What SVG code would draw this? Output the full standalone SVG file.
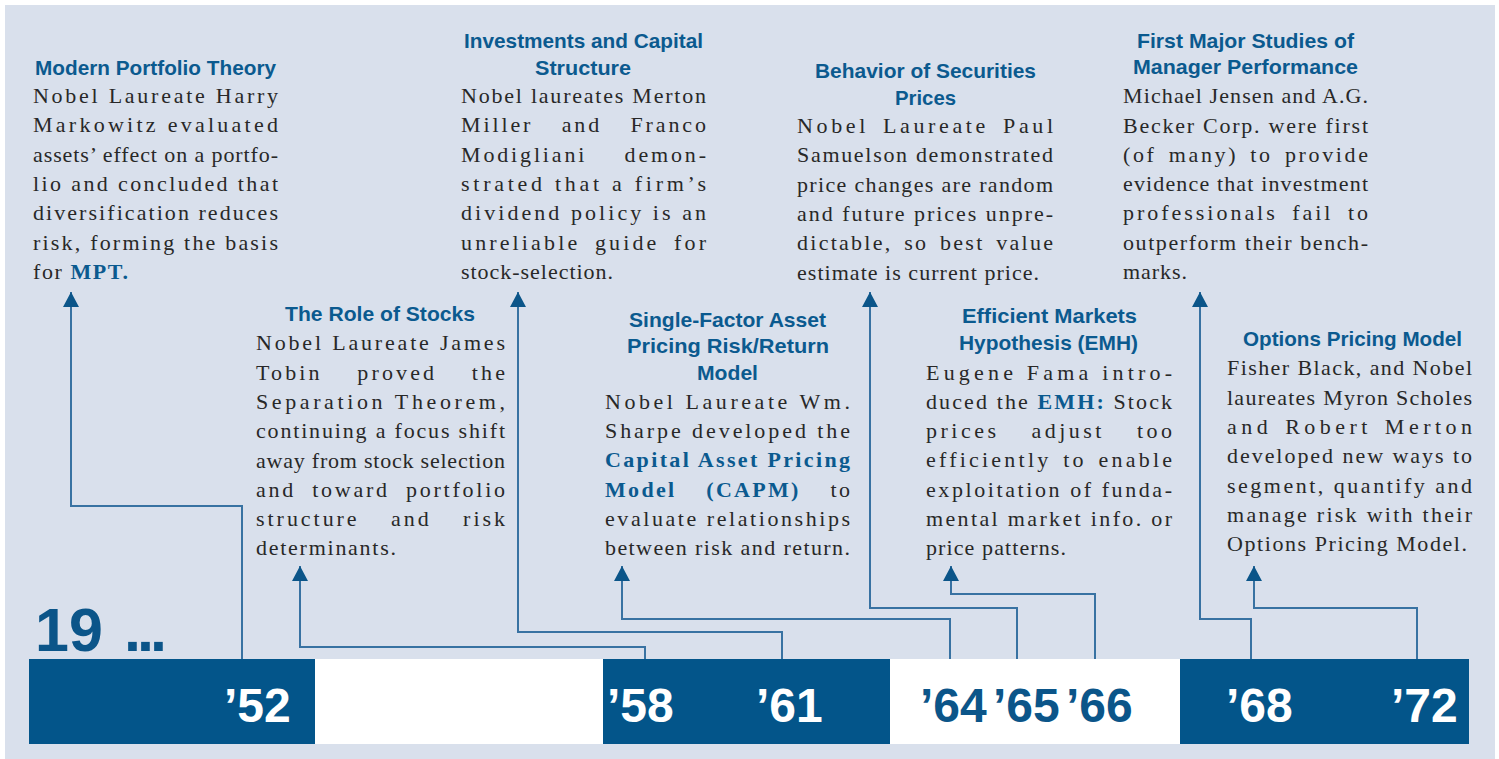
<svg xmlns="http://www.w3.org/2000/svg" width="1499" height="759" viewBox="0 0 1499 759">
<style>
.t{font-family:"Liberation Sans",Arial,sans-serif;font-weight:bold;font-size:21px;fill:#0b5a8f}
.b{font-family:"Liberation Serif","Times New Roman",serif;font-size:22px;fill:#282828}
.h{font-weight:bold;fill:#0b5a8f}
.yr{font-family:"Liberation Sans",Arial,sans-serif;font-weight:bold;font-size:48px}
.w{fill:#ffffff}
.d{fill:#0b5589}
.bar{fill:#03558a}
.c{fill:none;stroke:#3872a2;stroke-width:2;marker-end:url(#ah)}
</style>
<defs>
<marker id="ah" viewBox="0 0 15 16" refX="15" refY="8" markerWidth="15" markerHeight="16" markerUnits="userSpaceOnUse" orient="auto">
<path d="M0,0 L15,8 L0,16 z" fill="#0b5589"/>
</marker>
</defs>
<rect x="5" y="5" width="1490" height="754" fill="#d9e0ec"/>

<g id="timeline">
<rect class="bar" x="29" y="659" width="286" height="85"/>
<rect x="315" y="659" width="288" height="85" fill="#ffffff"/>
<rect class="bar" x="603" y="659" width="287" height="85"/>
<rect x="890" y="659" width="290" height="85" fill="#ffffff"/>
<rect class="bar" x="1180" y="659" width="289" height="85"/>
<text class="yr d" x="35" y="651" style="font-size:61px">19</text>
<text class="yr d" x="124" y="651" style="font-size:61px" letter-spacing="-4">...</text>
<text class="yr w" x="224" y="722">’52</text>
<text class="yr w" x="607" y="722">’58</text>
<text class="yr w" x="756" y="722">’61</text>
<text class="yr d" x="920" y="722">’64</text>
<text class="yr d" x="993" y="722">’65</text>
<text class="yr d" x="1066" y="722">’66</text>
<text class="yr w" x="1226" y="722">’68</text>
<text class="yr w" x="1391" y="722">’72</text>
</g>

<g id="connectors">
<path class="c" d="M242,659 V506 H71 V292"/>
<path class="c" d="M645,659 V647 H300 V566"/>
<path class="c" d="M782,659 V632 H518 V292"/>
<path class="c" d="M950,659 V619 H622 V566"/>
<path class="c" d="M1017,659 V608 H870 V292"/>
<path class="c" d="M1095,659 V594 H951 V566"/>
<path class="c" d="M1251,659 V619 H1200 V292"/>
<path class="c" d="M1417,659 V608 H1254 V566"/>
</g>

<g id="n1952">
<text class="t" x="35" y="75" textLength="241" lengthAdjust="spacingAndGlyphs">Modern Portfolio Theory</text>
<text class="b" x="33" y="103" textLength="245" lengthAdjust="spacing">Nobel Laureate Harry</text>
<text class="b" x="33" y="132" textLength="245" lengthAdjust="spacing">Markowitz evaluated</text>
<text class="b" x="33" y="162" textLength="245" lengthAdjust="spacing">assets’ effect on a portfo-</text>
<text class="b" x="33" y="191" textLength="245" lengthAdjust="spacing">lio and concluded that</text>
<text class="b" x="33" y="220" textLength="245" lengthAdjust="spacing">diversification reduces</text>
<text class="b" x="33" y="250" textLength="245" lengthAdjust="spacing">risk, forming the basis</text>
<text class="b" x="33" y="279" textLength="95" lengthAdjust="spacing">for <tspan class="h">MPT.</tspan></text>
</g>

<g id="n1958">
<text class="t" x="285" y="321" textLength="190" lengthAdjust="spacingAndGlyphs">The Role of Stocks</text>
<text class="b" x="256" y="350" textLength="249" lengthAdjust="spacing">Nobel Laureate James</text>
<text class="b" x="256" y="380" textLength="249" lengthAdjust="spacing" word-spacing="26">Tobin proved the</text>
<text class="b" x="256" y="409" textLength="249" lengthAdjust="spacing">Separation Theorem,</text>
<text class="b" x="256" y="438" textLength="249" lengthAdjust="spacing">continuing a focus shift</text>
<text class="b" x="256" y="468" textLength="249" lengthAdjust="spacing">away from stock selection</text>
<text class="b" x="256" y="497" textLength="249" lengthAdjust="spacing" word-spacing="8">and toward portfolio</text>
<text class="b" x="256" y="526" textLength="249" lengthAdjust="spacing" word-spacing="23">structure and risk</text>
<text class="b" x="256" y="555" textLength="140" lengthAdjust="spacing">determinants.</text>
</g>

<g id="n1961">
<text class="t" x="464" y="48" textLength="239" lengthAdjust="spacingAndGlyphs">Investments and Capital</text>
<text class="t" x="535" y="75" textLength="96" lengthAdjust="spacingAndGlyphs">Structure</text>
<text class="b" x="461" y="103" textLength="245" lengthAdjust="spacing">Nobel laureates Merton</text>
<text class="b" x="461" y="132" textLength="245" lengthAdjust="spacing" word-spacing="20">Miller and Franco</text>
<text class="b" x="461" y="162" textLength="245" lengthAdjust="spacing" word-spacing="29">Modigliani demon-</text>
<text class="b" x="461" y="191" textLength="245" lengthAdjust="spacing">strated that a firm’s</text>
<text class="b" x="461" y="220" textLength="245" lengthAdjust="spacing">dividend policy is an</text>
<text class="b" x="461" y="250" textLength="245" lengthAdjust="spacing" word-spacing="6">unreliable guide for</text>
<text class="b" x="461" y="279" textLength="152" lengthAdjust="spacing">stock-selection.</text>
</g>

<g id="n1964">
<text class="t" x="629" y="327" textLength="197" lengthAdjust="spacingAndGlyphs">Single-Factor Asset</text>
<text class="t" x="627" y="353" textLength="202" lengthAdjust="spacingAndGlyphs">Pricing Risk/Return</text>
<text class="t" x="697" y="380" textLength="61" lengthAdjust="spacingAndGlyphs">Model</text>
<text class="b" x="605" y="409" textLength="245" lengthAdjust="spacing">Nobel Laureate Wm.</text>
<text class="b" x="605" y="438" textLength="245" lengthAdjust="spacing">Sharpe developed the</text>
<text class="b h" x="605" y="467" textLength="245" lengthAdjust="spacing">Capital Asset Pricing</text>
<text class="b" x="605" y="497" textLength="245" lengthAdjust="spacing" word-spacing="22"><tspan class="h">Model (CAPM)</tspan> to</text>
<text class="b" x="605" y="526" textLength="245" lengthAdjust="spacing">evaluate relationships</text>
<text class="b" x="605" y="555" textLength="245" lengthAdjust="spacing">between risk and return.</text>
</g>

<g id="n1965">
<text class="t" x="815" y="78" textLength="221" lengthAdjust="spacingAndGlyphs">Behavior of Securities</text>
<text class="t" x="895" y="105" textLength="61" lengthAdjust="spacingAndGlyphs">Prices</text>
<text class="b" x="797" y="133" textLength="256" lengthAdjust="spacing" word-spacing="5">Nobel Laureate Paul</text>
<text class="b" x="797" y="162" textLength="256" lengthAdjust="spacing">Samuelson demonstrated</text>
<text class="b" x="797" y="192" textLength="256" lengthAdjust="spacing">price changes are random</text>
<text class="b" x="797" y="221" textLength="256" lengthAdjust="spacing">and future prices unpre-</text>
<text class="b" x="797" y="250" textLength="256" lengthAdjust="spacing" word-spacing="4">dictable, so best value</text>
<text class="b" x="797" y="280" textLength="242" lengthAdjust="spacing">estimate is current price.</text>
</g>

<g id="n1966">
<text class="t" x="962" y="323" textLength="175" lengthAdjust="spacingAndGlyphs">Efficient Markets</text>
<text class="t" x="959" y="350" textLength="179" lengthAdjust="spacingAndGlyphs">Hypothesis (EMH)</text>
<text class="b" x="926" y="380" textLength="246" lengthAdjust="spacing">Eugene Fama intro-</text>
<text class="b" x="926" y="409" textLength="246" lengthAdjust="spacing">duced the <tspan class="h">EMH:</tspan> Stock</text>
<text class="b" x="926" y="438" textLength="246" lengthAdjust="spacing" word-spacing="23">prices adjust too</text>
<text class="b" x="926" y="467" textLength="246" lengthAdjust="spacing" word-spacing="3">efficiently to enable</text>
<text class="b" x="926" y="497" textLength="246" lengthAdjust="spacing">exploitation of funda-</text>
<text class="b" x="926" y="526" textLength="246" lengthAdjust="spacing">mental market info. or</text>
<text class="b" x="926" y="555" textLength="140" lengthAdjust="spacing">price patterns.</text>
</g>

<g id="n1968">
<text class="t" x="1137" y="48" textLength="217" lengthAdjust="spacingAndGlyphs">First Major Studies of</text>
<text class="t" x="1133" y="74" textLength="225" lengthAdjust="spacingAndGlyphs">Manager Performance</text>
<text class="b" x="1123" y="103" textLength="245" lengthAdjust="spacing">Michael Jensen and A.G.</text>
<text class="b" x="1123" y="133" textLength="245" lengthAdjust="spacing">Becker Corp. were first</text>
<text class="b" x="1123" y="162" textLength="245" lengthAdjust="spacing" word-spacing="4">(of many) to provide</text>
<text class="b" x="1123" y="191" textLength="245" lengthAdjust="spacing">evidence that investment</text>
<text class="b" x="1123" y="220" textLength="245" lengthAdjust="spacing" word-spacing="6">professionals fail to</text>
<text class="b" x="1123" y="250" textLength="245" lengthAdjust="spacing">outperform their bench-</text>
<text class="b" x="1123" y="279" textLength="64" lengthAdjust="spacing">marks.</text>
</g>

<g id="n1972">
<text class="t" x="1243" y="346" textLength="219" lengthAdjust="spacingAndGlyphs">Options Pricing Model</text>
<text class="b" x="1227" y="375" textLength="245" lengthAdjust="spacing">Fisher Black, and Nobel</text>
<text class="b" x="1227" y="405" textLength="245" lengthAdjust="spacing">laureates Myron Scholes</text>
<text class="b" x="1227" y="434" textLength="245" lengthAdjust="spacing" word-spacing="3">and Robert Merton</text>
<text class="b" x="1227" y="463" textLength="245" lengthAdjust="spacing">developed new ways to</text>
<text class="b" x="1227" y="493" textLength="245" lengthAdjust="spacing">segment, quantify and</text>
<text class="b" x="1227" y="522" textLength="245" lengthAdjust="spacing">manage risk with their</text>
<text class="b" x="1227" y="551" textLength="240" lengthAdjust="spacing">Options Pricing Model.</text>
</g>
</svg>
